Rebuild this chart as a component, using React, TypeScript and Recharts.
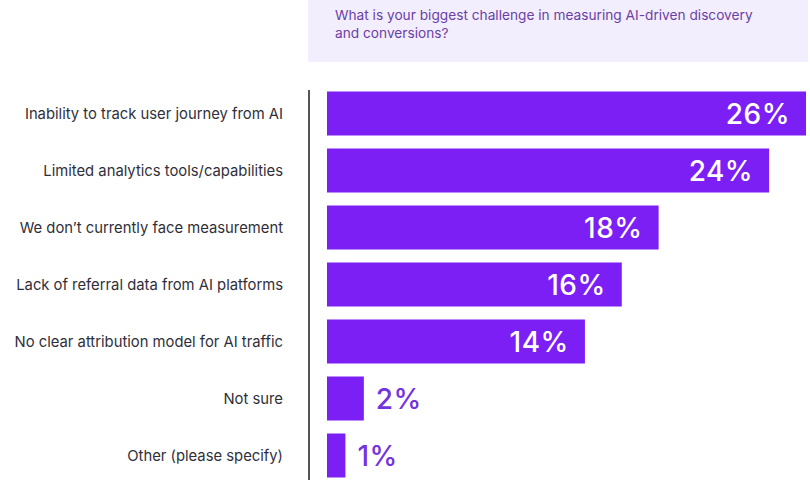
import { BarChart, Bar, XAxis, YAxis, LabelList } from "recharts";

const challenges = [
  "Inability to track user journey from AI",
  "Limited analytics tools/capabilities",
  "We don’t currently face measurement",
  "Lack of referral data from AI platforms",
  "No clear attribution model for AI traffic",
  "Not sure",
  "Other (please specify)",
];

const shares = [26, 24, 18, 16, 14, 2, 1];

const question = "What is your biggest challenge in measuring AI-driven discovery and conversions?";

const data = challenges.map((name, i) => ({ name, share: shares[i] }));

const BAR = "#7b1ff5";
const FONT = "Inter, 'Noto Sans', sans-serif";

// big shares get a white label inside the bar end, small ones a purple label just past it
function ShareLabel(props: any) {
  const { x, y, width, height, value } = props;
  const inside = value >= 10;
  const cy = y + height / 2;
  return (
    <text
      x={inside ? x + width - 16 : x + width + 12}
      y={cy}
      dy="0.36em"
      textAnchor={inside ? "end" : "start"}
      fill={inside ? "#ffffff" : "#7433e0"}
      fontFamily={FONT}
      fontSize={28}
      fontWeight={500}
      letterSpacing={0.5}
    >
      {`${value}%`}
    </text>
  );
}

export default function App() {
  return (
    <div style={{ position: "absolute", left: 0, top: 0, width: 810, height: 496, background: "#fff" }}>
      <div
        style={{
          position: "absolute",
          left: 308,
          top: 0,
          width: 500,
          height: 62,
          background: "#f3eefd",
          boxSizing: "border-box",
          padding: "6px 40px 0 27px",
          fontFamily: FONT,
          fontSize: 13.7,
          lineHeight: "18px",
          color: "#6a3fa6",
        }}
      >
        {question}
      </div>
      <div style={{ position: "absolute", left: 308, top: 90, width: 2, height: 390, background: "#555" }} />
      <BarChart
        width={810}
        height={496}
        data={data}
        layout="vertical"
        margin={{ top: 85, right: 4, bottom: 12, left: 0 }}
        barCategoryGap={6.5}
      >
        <XAxis type="number" domain={[0, 26]} hide />
        <YAxis
          type="category"
          dataKey="name"
          width={327}
          axisLine={false}
          tickLine={false}
          tickSize={0}
          tickMargin={44}
          tick={{ fill: "#2f2f3a", fontSize: 14.8, fontFamily: FONT }}
        />
        <Bar dataKey="share" fill={BAR} isAnimationActive={false}>
          <LabelList dataKey="share" content={ShareLabel} />
        </Bar>
      </BarChart>
    </div>
  );
}
